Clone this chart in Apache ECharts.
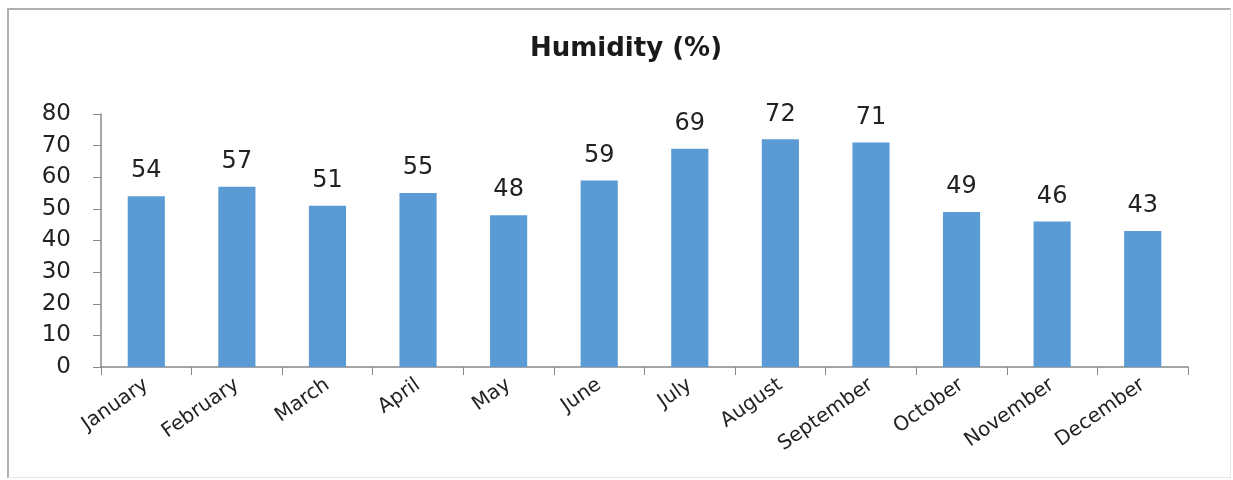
<!DOCTYPE html>
<html><head><meta charset="utf-8">
<script src="https://cdn.jsdelivr.net/npm/echarts@6/dist/echarts.min.js"></script>
<style>
html,body{margin:0;padding:0;background:#fff;}
#frame{position:absolute;left:7px;top:8px;width:1224px;height:470px;border:2px solid #b0b0b0;border-bottom:1px solid #e6e6e6;border-right:1px solid #e6e6e6;box-sizing:border-box;}
#c{position:absolute;left:0;top:0;width:1233px;height:480px;}
</style></head>
<body><div id="frame"></div><div id="c"></div>
<script>
const months = ["January","February","March","April","May","June","July","August","September","October","November","December"];
const humidity = [54,57,51,55,48,59,69,72,71,49,46,43];
const chart = echarts.init(document.getElementById('c'));
chart.setOption({
  animation:false,
  title:{text:'Humidity (%)',left:621,top:31,textAlign:'center',textStyle:{fontFamily:'DejaVu Sans',fontSize:26,fontWeight:'bold',color:'#1a1a1a'}},
  grid:{left:101,right:45,top:114,bottom:113},
  xAxis:{type:'category',data:months,
    axisLine:{lineStyle:{color:'#888',width:1.5}},
    axisTick:{show:true,length:8,alignWithLabel:false,lineStyle:{color:'#888'}},
    axisLabel:{rotate:35,fontFamily:'DejaVu Sans',fontSize:20,color:'#222',margin:16,interval:0}},
  yAxis:{type:'value',min:0,max:80,interval:10,
    axisLine:{show:true,lineStyle:{color:'#888',width:1.5}},
    axisTick:{show:true,length:8,lineStyle:{color:'#888'}},
    splitLine:{show:false},
    axisLabel:{fontFamily:'DejaVu Sans',fontSize:23,color:'#222',margin:30}},
  series:[{type:'bar',data:humidity,barWidth:'41%',
    itemStyle:{color:'#5b9bd5'},
    label:{show:true,position:'top',distance:13,fontFamily:'DejaVu Sans',fontSize:24,color:'#222'}}]
});
</script></body></html>
